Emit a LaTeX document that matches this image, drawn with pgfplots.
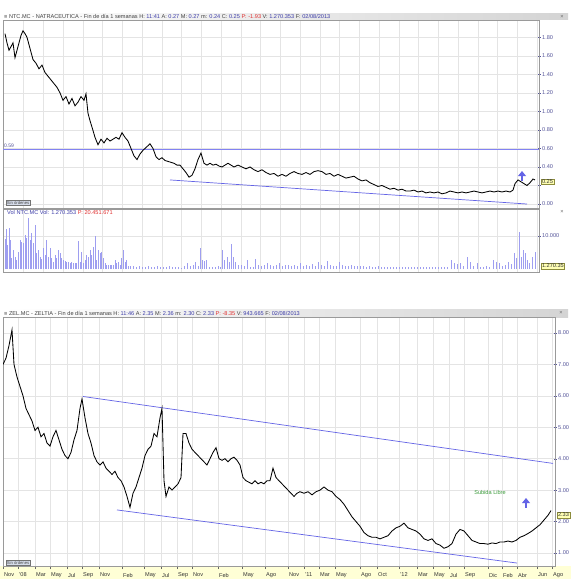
\documentclass[border=0pt]{standalone}
\usepackage{fontspec}
\setmainfont{Liberation Sans}
\usepackage{pgfplots}
\pgfplotsset{compat=1.18}

\definecolor{tickblue}{HTML}{55559A}
\definecolor{lineblue}{HTML}{6464E6}
\definecolor{levelblue}{HTML}{8282F2}
\definecolor{volfill}{HTML}{9E9EF0}
\definecolor{gridgray}{HTML}{E4E4E4}
\definecolor{framegray}{HTML}{9A9A9A}
\definecolor{headgray}{HTML}{D4D4D4}
\definecolor{boxyellow}{HTML}{FFFFB4}
\definecolor{boxedge}{HTML}{8C8C3C}
\definecolor{axisyellow}{HTML}{FFFFD6}
\definecolor{valblue}{HTML}{3C3CA8}
\definecolor{valred}{HTML}{E03030}
\definecolor{libregreen}{HTML}{3C9C3C}
\definecolor{btnfill}{HTML}{D6DCEA}

\newcommand{\hv}[1]{\textcolor{valblue}{#1}}

\pgfplotsset{
  chartpanel/.style={
    scale only axis, anchor=north west,
    axis line style={framegray, line width=0.6pt},
    grid=major, grid style={gridgray, line width=0.45pt},
    ytick pos=right, yticklabel pos=right,
    tick align=center, major tick length=3pt,
    y tick style={tickblue, line width=0.4pt},
    x tick style={draw=none},
    yticklabel style={font=\fontsize{5.6}{6}\selectfont, text=tickblue, inner sep=1.5pt},
    /pgf/number format/assume math mode=true,
  },
}

\begin{document}
\begin{tikzpicture}
\useasboundingbox (0,0) rectangle (571pt,-580pt);
\fill[white] (0,0) rectangle (571pt,-580pt);
% header bands
\shade[left color=white, right color=headgray] (3pt,-13.5pt) rectangle (568pt,-19.5pt);
\shade[left color=white, right color=headgray] (3pt,-309pt) rectangle (568pt,-317pt);
\fill[axisyellow] (0pt,-566pt) rectangle (571pt,-579pt);

% ---------------- NTC price ----------------
\begin{axis}[chartpanel,
    at={(3pt,-20pt)}, width=536pt, height=188pt,
    xmin=3, xmax=539, ymin=-0.043, ymax=1.987,
    xtick={23.5,43.25,...,537}, xticklabels={},
    ytick={0,0.2,0.4,0.6,0.8,1,1.2,1.4,1.6,1.8},
    yticklabels={0.00,,0.40,0.60,0.80,1.00,1.20,1.40,1.60,1.80},
]
\addplot[levelblue, line width=0.8pt] coordinates {(3,0.59)(539,0.59)};
\addplot[lineblue, line width=0.7pt] coordinates {(170,0.26)(527,0.0)};
\addplot[black, line width=0.85pt] coordinates {
(5,1.84)(7,1.74)(9,1.66)(11,1.70)(13,1.74)(15,1.58)(17,1.66)(19,1.74)(21,1.82)(23,1.87)
(25,1.84)(27,1.80)(29,1.72)(31,1.64)(33,1.56)(36,1.52)(39,1.46)(42,1.50)(45,1.42)(48,1.38)
(51,1.34)(54,1.30)(57,1.26)(60,1.20)(63,1.12)(66,1.16)(69,1.08)(72,1.14)(75,1.06)(78,1.10)
(81,1.16)(84,1.12)(86,1.19)(88,0.98)(90,0.90)(92,0.83)(95,0.72)(98,0.64)(101,0.70)(104,0.66)
(107,0.71)(110,0.68)(113,0.70)(116,0.72)(119,0.70)(122,0.77)(125,0.72)(128,0.68)(131,0.60)(134,0.52)
(137,0.48)(140,0.54)(143,0.58)(147,0.62)(150,0.65)(153,0.60)(156,0.51)(159,0.48)(162,0.50)(165,0.47)
(168,0.46)(171,0.45)(174,0.44)(177,0.42)(180,0.42)(183,0.38)(186,0.34)(189,0.29)(192,0.31)(195,0.38)
(198,0.48)(201,0.55)(204,0.44)(207,0.42)(210,0.44)(213,0.42)(216,0.43)(219,0.41)(222,0.40)(225,0.42)
(228,0.44)(231,0.42)(234,0.40)(238,0.42)(242,0.40)(246,0.38)(250,0.40)(254,0.37)(258,0.35)(262,0.37)
(266,0.34)(270,0.32)(274,0.33)(278,0.30)(282,0.32)(286,0.30)(290,0.33)(294,0.35)(298,0.33)(302,0.32)
(306,0.34)(310,0.32)(314,0.35)(318,0.36)(322,0.35)(326,0.32)(330,0.33)(334,0.30)(338,0.32)(342,0.30)
(346,0.28)(350,0.29)(354,0.30)(358,0.27)(362,0.25)(366,0.26)(370,0.23)(374,0.21)(378,0.19)(382,0.20)
(386,0.18)(390,0.16)(394,0.17)(398,0.15)(402,0.16)(406,0.14)(410,0.14)(414,0.15)(418,0.13)(422,0.14)
(426,0.12)(430,0.13)(434,0.12)(438,0.13)(442,0.11)(446,0.12)(450,0.14)(454,0.13)(458,0.12)(462,0.13)
(466,0.12)(470,0.13)(474,0.14)(478,0.13)(482,0.12)(486,0.13)(490,0.14)(494,0.13)(498,0.14)(502,0.13)
(506,0.14)(510,0.13)(513,0.15)(515,0.22)(518,0.26)(521,0.24)(524,0.22)(527,0.20)(530,0.23)(533,0.27)
(535,0.26)
};
\end{axis}

% ---------------- NTC volume ----------------
\begin{axis}[chartpanel,
    at={(3pt,-209pt)}, width=536pt, height=63pt,
    xmin=3, xmax=539, ymin=-909, ymax=18181,
    xtick={23.5,43.25,...,537}, xticklabels={},
    ytick={10000}, yticklabels={10.000}, scaled y ticks=false,
]
\addplot[ycomb, volfill, line width=1.0pt] coordinates {
(5,9000)(6,12000)(7.3,7300)(9,12500)(10,8800)(11.7,3200)(13.3,5800)(15,3700)(16.7,2700)(18.3,5300)
(20,8800)(21.7,8300)(23.3,7800)(25,10300)(26.7,9300)(28.3,15400)(30,8800)(31.7,10800)(33.3,7800)(35,13300)
(36.7,4700)(38.3,5800)(40,3700)(41.7,3000)(43.3,6300)(45,4200)(46.7,8800)(48.3,3700)(50,6300)(51.7,3200)
(53.3,2200)(55,4200)(56.7,3200)(58.3,5800)(60,4700)(61.7,3200)(63.3,2700)(65,2500)(66.7,2200)(68.3,2200)
(70,1700)(71.7,2200)(73.3,1700)(75,1700)(76.7,1700)(78.3,8600)(80,2200)(81.7,5300)(83.3,1700)(85,2700)
(86.7,4200)(88.3,3700)(90,5800)(91.7,4200)(93.3,6800)(95,10000)(96.7,2700)(98.3,5800)(100,4700)(101.7,5300)
(103.3,3200)(105,1700)(106.7,1200)(108.3,1200)(110,1200)(111.7,1200)(113.3,1200)(115,2700)(116.7,1700)(118.3,2200)
(120,1200)(121.7,3200)(123.3,5800)(125,2200)(126.7,2700)(128.3,900)(130,900)
(133,800)(136,600)(139,900)(142,500)(145,700)(148,1000)(151,600)(154,500)(157,800)(160,600)
(163,700)(166,500)(169,900)(172,600)(175,500)(178,700)(181,400)(184,800)(187,1700)(190,900)
(193,1200)(195,2200)(198,900)(200,6500)(202,2700)(204,2500)(206,2700)(209,700)(212,600)(215,700)
(218,800)(220,600)(222,5800)(224,2700)(227,3700)(229,2200)(231,7500)(233,3700)(235,2200)(238,1200)
(241,1200)(244,1000)(247,2700)(250,700)(253,700)(255,3000)(258,1200)(261,1000)(264,1200)(267,1700)
(270,1100)(273,1000)(276,1200)(279,1700)(282,1000)(285,1200)(288,1100)(291,1000)(294,1200)(297,900)
(300,1700)(303,1000)(306,1200)(309,900)(312,1500)(315,1000)(318,2200)(321,1200)(324,900)(327,2500)
(330,1200)(333,900)(336,1000)(339,2000)(342,1200)(345,900)(348,1000)(351,1200)(354,800)(357,900)
(360,1000)(363,800)(366,700)(369,900)(372,700)(375,600)(378,800)(381,600)(384,700)(387,500)
(390,600)(393,700)(396,500)(399,600)(402,700)(405,500)(408,600)(411,700)(414,500)(417,600)
(420,700)(423,500)(426,600)(429,500)(432,700)(435,600)(438,500)(441,600)(444,700)(447,600)
(451,2700)(454,1700)(457,1500)(460,1700)(463,1000)(467,3700)(470,2200)(473,1000)(477,1700)(480,700)
(483,700)(486,800)(489,700)(493,2700)(496,2200)(499,1700)(502,1000)(505,1200)(508,2200)(511,1500)
(514,4700)(516.5,3200)(519,11200)(521,3500)(523,5800)(525,4700)(527,2700)(529,1700)(532,3700)(535,5300)
};
\end{axis}

% ---------------- ZEL price ----------------
\begin{axis}[chartpanel,
    at={(3pt,-317pt)}, width=552pt, height=249pt,
    xmin=3, xmax=555, ymin=0.586, ymax=8.509,
    xtick={3,18,35,50,67,82,99,122,144,161,177,192,218,242,265,288,304,319,335,360,377,399,417,433,449,464,488,502,517,537,552},
    xticklabels={Nov,'08,Mar,May,Jul,Sep,Nov,Feb,May,Jul,Sep,Nov,Feb,May,Ago,Nov,'11,Mar,May,Ago,Oct,'12,Mar,May,Jul,Sep,Dic,Feb,Abr,Jun,Ago},
    xtick pos=bottom, x tick style={draw=black!60, line width=0.4pt}, xtick align=outside,
    xticklabel style={font=\fontsize{5.6}{6}\selectfont, text=black!80, anchor=west, yshift=-6pt, inner sep=1pt},
    ytick={1,2,3,4,5,6,7,8},
    yticklabel style={/pgf/number format/.cd, fixed, fixed zerofill, precision=2},
]
\addplot[lineblue, line width=0.7pt] coordinates {(83,5.98)(553,3.85)};
\addplot[lineblue, line width=0.7pt] coordinates {(117,2.37)(517,0.68)};
\addplot[black, line width=0.85pt] coordinates {
(3,7.0)(6,7.2)(9,7.6)(12,8.1)(14,7.0)(17,6.6)(20,6.3)(23,6.0)(26,5.6)(29,5.4)
(32,5.2)(35,4.9)(38,5.0)(41,4.7)(44,4.8)(47,4.5)(50,4.4)(53,4.7)(56,4.9)(59,4.6)
(62,4.3)(65,4.1)(68,4.0)(71,4.2)(74,4.6)(77,4.9)(80,5.6)(82,5.9)(85,5.3)(88,4.8)
(91,4.5)(94,4.1)(97,3.9)(100,3.8)(103,3.9)(106,3.7)(109,3.6)(112,3.5)(115,3.6)(118,3.4)
(121,3.3)(124,3.1)(127,2.8)(130,2.45)(133,2.9)(136,3.1)(139,3.4)(142,3.7)(145,4.1)(148,4.3)
(151,4.4)(154,4.8)(157,4.7)(160,5.3)(162,5.6)(164,3.3)(166,2.8)(169,3.1)(172,3.0)(175,3.1)
(178,3.2)(181,3.4)(183,4.8)(186,4.8)(189,4.5)(192,4.3)(195,4.2)(198,4.1)(201,4.0)(204,3.9)
(207,3.8)(210,4.0)(213,4.2)(216,4.35)(219,4.0)(222,3.95)(225,4.0)(228,3.9)(231,4.0)(234,4.05)
(237,3.95)(240,3.8)(243,3.4)(246,3.3)(249,3.25)(252,3.2)(255,3.3)(258,3.2)(261,3.25)(264,3.2)
(267,3.3)(270,3.3)(273,3.7)(276,3.4)(279,3.3)(282,3.2)(285,3.1)(288,3.0)(291,2.9)(294,2.8)
(297,2.9)(300,2.95)(304,2.9)(308,2.95)(312,2.85)(316,2.95)(320,3.0)(324,3.1)(328,3.0)(332,2.95)
(336,2.8)(340,2.7)(344,2.55)(348,2.35)(352,2.15)(356,2.0)(360,1.85)(364,1.65)(368,1.55)(372,1.5)
(376,1.5)(380,1.45)(384,1.5)(388,1.55)(392,1.7)(396,1.8)(400,1.85)(404,1.95)(408,1.8)(412,1.75)
(416,1.7)(420,1.6)(424,1.45)(428,1.4)(432,1.45)(436,1.3)(440,1.25)(444,1.15)(448,1.2)(452,1.3)
(456,1.6)(460,1.75)(464,1.7)(468,1.55)(472,1.4)(476,1.35)(480,1.3)(484,1.3)(488,1.28)(492,1.32)
(496,1.3)(500,1.35)(504,1.35)(508,1.38)(512,1.35)(516,1.4)(520,1.5)(524,1.55)(528,1.62)(532,1.7)
(536,1.8)(540,1.9)(544,2.05)(548,2.2)(551,2.35)
};
\end{axis}

% ---------------- texts and marks ----------------
\begin{scope}[font=\fontsize{5.6}{6}\selectfont]
\node[anchor=west, inner sep=0pt, text=black!75] at (4pt,-16.5pt)
  {≡ NTC.MC - NATRACEUTICA - Fin de día 1 semanas H: \hv{11:41} A: \hv{0.27} M: \hv{0.27} m: \hv{0.24} C: \hv{0.25} \textcolor{valred}{P: -1.93} V: \hv{1.270.353} F: \hv{02/08/2013}};
\node[anchor=west, inner sep=0pt, text=valblue] at (7pt,-212.5pt)
  {Vol NTC.MC Vol: 1.270.353 \textcolor{valred}{P: 20.451.671}};
\node[anchor=west, inner sep=0pt, text=black!75] at (4pt,-313pt)
  {≡ ZEL.MC - ZELTIA - Fin de día 1 semanas H: \hv{11:46} A: \hv{2.35} M: \hv{2.36} m: \hv{2.30} C: \hv{2.33} \textcolor{valred}{P: -8.35} V: \hv{943.665} F: \hv{02/08/2013}};
\node[anchor=west, inner sep=0pt, text=tickblue, font=\fontsize{5}{5}\selectfont] at (4pt,-146pt) {0.59};
\node[anchor=center, text=libregreen] at (490pt,-492pt) {Subida Libre};
\node[anchor=west, draw=boxedge, fill=boxyellow, inner sep=0.8pt, text=black!80] at (541pt,-181.5pt) {0.25};
\node[anchor=west, draw=boxedge, fill=boxyellow, inner sep=0.8pt, text=black!80] at (541pt,-266pt) {1.270.35};
\node[anchor=west, draw=boxedge, fill=boxyellow, inner sep=0.8pt, text=black!80] at (557pt,-515pt) {2.33};
\node[text=black!60] at (562pt,-16.5pt) {×};
\node[text=black!60] at (562pt,-212pt) {×};
\node[text=black!60] at (561pt,-313pt) {×};
\end{scope}
\node[anchor=south west, draw=black!55, fill=btnfill, inner sep=0.6pt, font=\fontsize{4.2}{4.5}\selectfont, text=black!70] at (6pt,-205pt) {Sin órdenes};
\node[anchor=south west, draw=black!55, fill=btnfill, inner sep=0.6pt, font=\fontsize{4.2}{4.5}\selectfont, text=black!70] at (6pt,-565pt) {Sin órdenes};
% up arrows
\fill[lineblue] (518pt,-176pt) -- (526pt,-176pt) -- (522pt,-171pt) -- cycle;
\fill[lineblue] (520.6pt,-176pt) rectangle (523.4pt,-181pt);
\fill[lineblue] (522pt,-503pt) -- (530pt,-503pt) -- (526pt,-498pt) -- cycle;
\fill[lineblue] (524.6pt,-503pt) rectangle (527.4pt,-508pt);
\end{tikzpicture}
\end{document}
